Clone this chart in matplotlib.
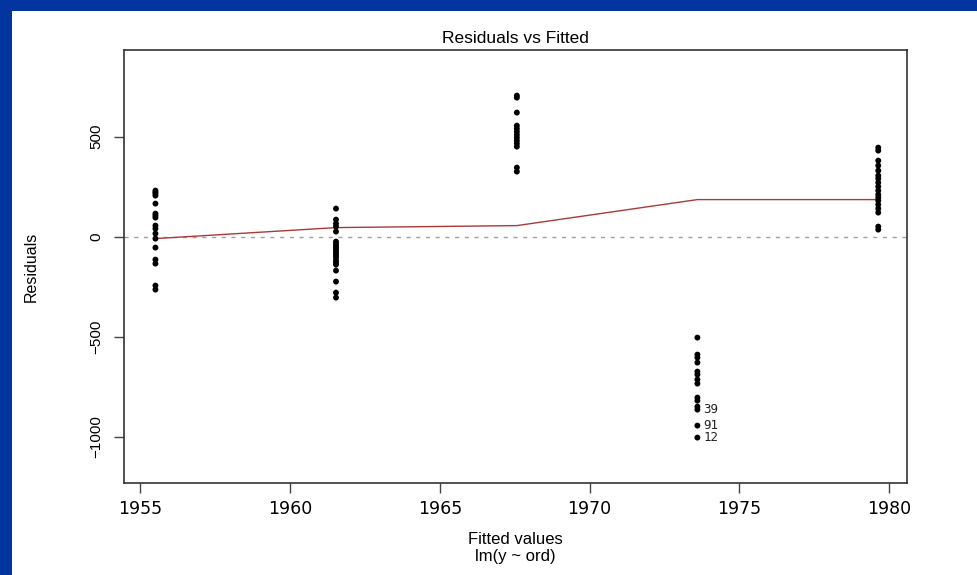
import matplotlib
matplotlib.use("Agg")
import matplotlib.pyplot as plt
from matplotlib.patches import Rectangle

# Fitted values (one per group) and residuals per group
fitted = [1955.5, 1961.53, 1967.57, 1973.6, 1979.64]
res_g1 = [230, 222, 215, 205, 165, 115, 105, 95, 55, 40, 15, -10, -55, -115, -135, -245, -265]
res_g2 = [140, 85, 65, 50, 25, -25, -35, -45, -55, -65, -75, -85, -95, -105, -120, -130, -140,
          -170, -225, -280, -305]
res_g3 = [705, 695, 620, 555, 540, 525, 510, 495, 480, 465, 450, 345, 325]
res_g4 = [-505, -590, -605, -630, -675, -690, -715, -735, -805, -820, -850, -865, -945, -1005]
res_g5 = [445, 430, 380, 355, 330, 305, 290, 270, 250, 230, 210, 195, 180, 160, 140, 120, 50, 35]
groups = [res_g1, res_g2, res_g3, res_g4, res_g5]

# Smoother values at the fitted points
smooth = [-10, 45, 55, 185, 185]

# Labelled outliers: (label, group index, residual)
outlier_labels = ["39", "91", "12"]
outlier_group = [3, 3, 3]
outlier_res = [-865, -945, -1005]

xticks = [1955, 1960, 1965, 1970, 1975, 1980]
yticks = [-1000, -500, 0, 500]

fig = plt.figure(figsize=(9.77, 5.75), dpi=100)
fig.patch.set_facecolor("white")
blue = "#0335a0"
fig.patches.append(Rectangle((0, 1 - 11 / 575), 1, 11 / 575, transform=fig.transFigure,
                             facecolor=blue, edgecolor="none", zorder=0))
fig.patches.append(Rectangle((0, 0), 12 / 977, 1, transform=fig.transFigure,
                             facecolor=blue, edgecolor="none", zorder=0))

ax = fig.add_axes([124 / 977, 1 - 483 / 575, (907 - 124) / 977, (483 - 50) / 575])

for fx, g in zip(fitted, groups):
    ax.scatter([fx] * len(g), g, s=18, color="black", edgecolors="none", zorder=3)

ax.axhline(0, color="#a0a0a0", linestyle=(0, (3, 4)), linewidth=1.0, zorder=1)
ax.plot(fitted, smooth, color="#a83a3a", linewidth=1.0, zorder=2)

for lab, gi, r in zip(outlier_labels, outlier_group, outlier_res):
    ax.text(fitted[gi] + 0.2, r, lab, fontsize=9, va="center", ha="left",
            family="DejaVu Sans Mono", color="#222222")

ax.set_xlim(1954.45, 1980.6)
ax.set_ylim(-1232, 933)
ax.set_xticks(xticks)
ax.set_xticklabels([str(t) for t in xticks], fontsize=12.5, family="DejaVu Sans")
ax.set_yticks(yticks)
ax.set_yticklabels([str(t).replace("-", "\u2212") for t in yticks], fontsize=11,
                   family="Liberation Sans", rotation=90, va="center")
ax.tick_params(axis="both", direction="out", length=7, width=1, colors="#444444",
               labelcolor="black")
ax.tick_params(axis="x", pad=5)
ax.tick_params(axis="y", pad=8)
for s in ax.spines.values():
    s.set_linewidth(1.2)
    s.set_color("#333333")

ax.set_title("Residuals vs Fitted", fontsize=12.5, family="Liberation Sans", pad=5)
ax.set_ylabel("Residuals", fontsize=11.5, family="Liberation Sans", labelpad=36)
fig.text(515 / 977, 1 - 540 / 575, "Fitted values", ha="center", va="center",
         fontsize=12, family="Liberation Sans")
fig.text(515 / 977, 1 - 557 / 575, "lm(y ~ ord)", ha="center", va="center",
         fontsize=12, family="Liberation Sans")

fig.savefig("out.png", dpi=100, facecolor="white")
